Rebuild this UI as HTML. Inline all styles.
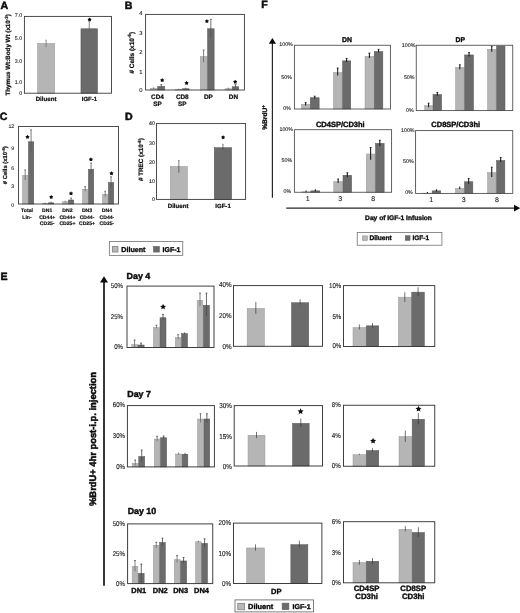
<!DOCTYPE html>
<html>
<head>
<meta charset="utf-8">
<title>Figure</title>
<style>
html, body { margin: 0; padding: 0; background: #fff; }
body { width: 520px; height: 613px; overflow: hidden; }
svg { display: block; font-family: "Liberation Sans", sans-serif; filter: blur(0.4px); text-rendering: geometricPrecision; }
</style>
</head>
<body>
<svg width="520" height="613" viewBox="0 0 520 613">
<rect x="-5" y="-5" width="530" height="623" fill="#ffffff"/>
<text x="0.6" y="8.59" font-size="10.6" text-anchor="start" fill="#0c0c0c" font-weight="bold" stroke="#0c0c0c" stroke-width="0.52">A</text>
<text x="124.8" y="8.59" font-size="10.6" text-anchor="start" fill="#0c0c0c" font-weight="bold" stroke="#0c0c0c" stroke-width="0.52">B</text>
<text x="-0.3" y="119.89" font-size="10.6" text-anchor="start" fill="#0c0c0c" font-weight="bold" stroke="#0c0c0c" stroke-width="0.52">C</text>
<text x="125" y="120.09" font-size="10.6" text-anchor="start" fill="#0c0c0c" font-weight="bold" stroke="#0c0c0c" stroke-width="0.52">D</text>
<text x="0.4" y="280.29" font-size="10.6" text-anchor="start" fill="#0c0c0c" font-weight="bold" stroke="#0c0c0c" stroke-width="0.52">E</text>
<text x="261.2" y="8.19" font-size="10.6" text-anchor="start" fill="#0c0c0c" font-weight="bold" stroke="#0c0c0c" stroke-width="0.52">F</text>
<rect x="37.45" y="43.35" width="17.3" height="49.85" fill="#b5b5b5" stroke="#9c9c9c" stroke-width="0.5"/>
<line x1="46.1" y1="40.2" x2="46.1" y2="47.2" stroke="#777" stroke-width="0.8"/>
<line x1="45.4" y1="40.2" x2="46.8" y2="40.2" stroke="#777" stroke-width="0.68"/>
<rect x="80.95" y="28.75" width="16.6" height="64.45" fill="#6b6b6b" stroke="#585858" stroke-width="0.5"/>
<line x1="89.25" y1="21.3" x2="89.25" y2="34.4" stroke="#666" stroke-width="0.8"/>
<line x1="88.55" y1="21.3" x2="89.95" y2="21.3" stroke="#666" stroke-width="0.68"/>
<rect x="24.4" y="16.4" width="87.1" height="76.8" fill="none" stroke="#363636" stroke-width="0.88"/>
<text x="22.2" y="17.4" font-size="5.3" text-anchor="end" fill="#222222" stroke="#222222" stroke-width="0.11">7.0</text>
<text x="22.2" y="39.7" font-size="5.3" text-anchor="end" fill="#222222" stroke="#222222" stroke-width="0.11">5.0</text>
<text x="22.2" y="62.9" font-size="5.3" text-anchor="end" fill="#222222" stroke="#222222" stroke-width="0.11">3.0</text>
<text x="22.2" y="83.9" font-size="5.3" text-anchor="end" fill="#222222" stroke="#222222" stroke-width="0.11">1.0</text>
<text x="22.2" y="94.5" font-size="5.3" text-anchor="end" fill="#222222" stroke="#222222" stroke-width="0.11">0</text>
<text transform="translate(10.34 54.8) rotate(-90)" font-size="6.25" text-anchor="middle" fill="#0c0c0c" font-weight="bold" stroke="#0c0c0c" stroke-width="0.21">Thymus Wt:Body Wt (x10<tspan dy="-2.25" font-size="4.5">-3</tspan><tspan dy="2.25">)</tspan></text>
<text x="46.1" y="100.7" font-size="6.15" text-anchor="middle" fill="#0c0c0c" font-weight="bold" stroke="#0c0c0c" stroke-width="0.2">Diluent</text>
<text x="89.4" y="100.65" font-size="6" text-anchor="middle" fill="#0c0c0c" font-weight="bold" stroke="#0c0c0c" stroke-width="0.2">IGF-1</text>
<polygon points="89.6,17.41 90.37,18.54 91.68,18.92 90.85,20.01 90.89,21.37 89.6,20.91 88.31,21.37 88.35,20.01 87.52,18.92 88.83,18.54" fill="#0a0a0a"/>
<rect x="150.25" y="88.35" width="7" height="1.65" fill="#b5b5b5" stroke="#9c9c9c" stroke-width="0.5"/>
<line x1="153.75" y1="87.2" x2="153.75" y2="89" stroke="#5e5e5e" stroke-width="0.8"/>
<rect x="157.75" y="86.45" width="7" height="3.55" fill="#6b6b6b" stroke="#585858" stroke-width="0.5"/>
<line x1="161.25" y1="84.6" x2="161.25" y2="87.6" stroke="#505050" stroke-width="0.8"/>
<line x1="160.35" y1="84.6" x2="162.15" y2="84.6" stroke="#333" stroke-width="0.68"/>
<rect x="175.15" y="89.55" width="6.75" height="0.45" fill="#b5b5b5" stroke="#9c9c9c" stroke-width="0.5"/>
<line x1="178.53" y1="88.8" x2="178.53" y2="89.8" stroke="#5e5e5e" stroke-width="0.8"/>
<rect x="182.4" y="88.75" width="6.75" height="1.25" fill="#6b6b6b" stroke="#585858" stroke-width="0.5"/>
<line x1="185.78" y1="87.7" x2="185.78" y2="89.3" stroke="#505050" stroke-width="0.8"/>
<rect x="200.25" y="56.5" width="6.75" height="33.5" fill="#b5b5b5" stroke="#9c9c9c" stroke-width="0.5"/>
<line x1="203.62" y1="50" x2="203.62" y2="62.25" stroke="#5e5e5e" stroke-width="0.8"/>
<line x1="202.72" y1="50" x2="204.53" y2="50" stroke="#333" stroke-width="0.68"/>
<rect x="207.5" y="28.75" width="6.65" height="61.25" fill="#6b6b6b" stroke="#585858" stroke-width="0.5"/>
<line x1="210.82" y1="19.4" x2="210.82" y2="37.25" stroke="#505050" stroke-width="0.8"/>
<line x1="209.92" y1="19.4" x2="211.72" y2="19.4" stroke="#333" stroke-width="0.68"/>
<rect x="225" y="88.75" width="6.65" height="1.25" fill="#b5b5b5" stroke="#9c9c9c" stroke-width="0.5"/>
<line x1="228.32" y1="87.7" x2="228.32" y2="89.3" stroke="#5e5e5e" stroke-width="0.8"/>
<rect x="232.15" y="86.75" width="6.6" height="3.25" fill="#6b6b6b" stroke="#585858" stroke-width="0.5"/>
<line x1="235.45" y1="84.6" x2="235.45" y2="88.2" stroke="#505050" stroke-width="0.8"/>
<line x1="234.55" y1="84.6" x2="236.35" y2="84.6" stroke="#333" stroke-width="0.68"/>
<rect x="145.6" y="14.4" width="98.8" height="75.6" fill="none" stroke="#363636" stroke-width="0.88"/>
<text x="142.6" y="15.28" font-size="5.8" text-anchor="end" fill="#222222" stroke="#222222" stroke-width="0.12">4</text>
<text x="142.6" y="35.48" font-size="5.8" text-anchor="end" fill="#222222" stroke="#222222" stroke-width="0.12">3</text>
<text x="142.6" y="53.98" font-size="5.8" text-anchor="end" fill="#222222" stroke="#222222" stroke-width="0.12">2</text>
<text x="142.6" y="73.58" font-size="5.8" text-anchor="end" fill="#222222" stroke="#222222" stroke-width="0.12">1</text>
<text x="142.6" y="92.08" font-size="5.8" text-anchor="end" fill="#222222" stroke="#222222" stroke-width="0.12">0</text>
<text transform="translate(133.61 52.75) rotate(-90)" font-size="6.45" text-anchor="middle" fill="#0c0c0c" font-weight="bold" stroke="#0c0c0c" stroke-width="0.21"># Cells (x10<tspan dy="-2.32" font-size="4.64">-6</tspan><tspan dy="2.32">)</tspan></text>
<text x="157.5" y="98.59" font-size="6.4" text-anchor="middle" fill="#0c0c0c" font-weight="bold" stroke="#0c0c0c" stroke-width="0.21">CD4</text>
<text x="157.5" y="106.09" font-size="6.4" text-anchor="middle" fill="#0c0c0c" font-weight="bold" stroke="#0c0c0c" stroke-width="0.21">SP</text>
<text x="182.3" y="98.59" font-size="6.4" text-anchor="middle" fill="#0c0c0c" font-weight="bold" stroke="#0c0c0c" stroke-width="0.21">CD8</text>
<text x="182.3" y="106.09" font-size="6.4" text-anchor="middle" fill="#0c0c0c" font-weight="bold" stroke="#0c0c0c" stroke-width="0.21">SP</text>
<text x="208.4" y="98.69" font-size="6.4" text-anchor="middle" fill="#0c0c0c" font-weight="bold" stroke="#0c0c0c" stroke-width="0.21">DP</text>
<text x="233.4" y="98.69" font-size="6.4" text-anchor="middle" fill="#0c0c0c" font-weight="bold" stroke="#0c0c0c" stroke-width="0.21">DN</text>
<polygon points="162.2,78.11 162.97,79.24 164.28,79.62 163.45,80.71 163.49,82.07 162.2,81.61 160.91,82.07 160.95,80.71 160.12,79.62 161.43,79.24" fill="#0a0a0a"/>
<polygon points="186.6,80.91 187.37,82.04 188.68,82.42 187.85,83.51 187.89,84.87 186.6,84.41 185.31,84.87 185.35,83.51 184.52,82.42 185.83,82.04" fill="#0a0a0a"/>
<polygon points="206.9,19.11 207.67,20.24 208.98,20.62 208.15,21.71 208.19,23.07 206.9,22.61 205.61,23.07 205.65,21.71 204.82,20.62 206.13,20.24" fill="#0a0a0a"/>
<polygon points="235.2,79.71 235.97,80.84 237.28,81.22 236.45,82.31 236.49,83.67 235.2,83.21 233.91,83.67 233.95,82.31 233.12,81.22 234.43,80.84" fill="#0a0a0a"/>
<rect x="22.5" y="175.35" width="5.38" height="28.65" fill="#b5b5b5" stroke="#9c9c9c" stroke-width="0.5"/>
<line x1="25.19" y1="169.9" x2="25.19" y2="179.9" stroke="#626262" stroke-width="0.8"/>
<line x1="24.39" y1="169.9" x2="25.99" y2="169.9" stroke="#3a3a3a" stroke-width="0.68"/>
<rect x="28.38" y="141.75" width="5.38" height="62.25" fill="#6b6b6b" stroke="#585858" stroke-width="0.5"/>
<line x1="31.07" y1="129.9" x2="31.07" y2="152.4" stroke="#5a5a5a" stroke-width="0.8"/>
<line x1="30.27" y1="129.9" x2="31.87" y2="129.9" stroke="#3a3a3a" stroke-width="0.68"/>
<rect x="42.5" y="203.55" width="5.38" height="0.45" fill="#b5b5b5" stroke="#9c9c9c" stroke-width="0.5"/>
<line x1="45.19" y1="202.6" x2="45.19" y2="203.8" stroke="#626262" stroke-width="0.8"/>
<rect x="48.38" y="202.85" width="5.38" height="1.15" fill="#6b6b6b" stroke="#585858" stroke-width="0.5"/>
<line x1="51.07" y1="201.6" x2="51.07" y2="203.5" stroke="#5a5a5a" stroke-width="0.8"/>
<rect x="62.5" y="201.75" width="5.38" height="2.25" fill="#b5b5b5" stroke="#9c9c9c" stroke-width="0.5"/>
<line x1="65.19" y1="200.7" x2="65.19" y2="202.3" stroke="#626262" stroke-width="0.8"/>
<rect x="68.38" y="200" width="5.38" height="4" fill="#6b6b6b" stroke="#585858" stroke-width="0.5"/>
<line x1="71.07" y1="198" x2="71.07" y2="201.3" stroke="#5a5a5a" stroke-width="0.8"/>
<line x1="70.27" y1="198" x2="71.87" y2="198" stroke="#3a3a3a" stroke-width="0.68"/>
<rect x="82.5" y="189.25" width="5.38" height="14.75" fill="#b5b5b5" stroke="#9c9c9c" stroke-width="0.5"/>
<line x1="85.19" y1="186.6" x2="85.19" y2="191.2" stroke="#626262" stroke-width="0.8"/>
<line x1="84.39" y1="186.6" x2="85.99" y2="186.6" stroke="#3a3a3a" stroke-width="0.68"/>
<rect x="88.38" y="169.25" width="5.38" height="34.75" fill="#6b6b6b" stroke="#585858" stroke-width="0.5"/>
<line x1="91.07" y1="163" x2="91.07" y2="174.25" stroke="#5a5a5a" stroke-width="0.8"/>
<line x1="90.27" y1="163" x2="91.87" y2="163" stroke="#3a3a3a" stroke-width="0.68"/>
<rect x="102.5" y="194.25" width="5.38" height="9.75" fill="#b5b5b5" stroke="#9c9c9c" stroke-width="0.5"/>
<line x1="105.19" y1="191.3" x2="105.19" y2="196.5" stroke="#626262" stroke-width="0.8"/>
<line x1="104.39" y1="191.3" x2="105.99" y2="191.3" stroke="#3a3a3a" stroke-width="0.68"/>
<rect x="108.38" y="182.55" width="5.38" height="21.45" fill="#6b6b6b" stroke="#585858" stroke-width="0.5"/>
<line x1="111.07" y1="176.75" x2="111.07" y2="187" stroke="#5a5a5a" stroke-width="0.8"/>
<line x1="110.27" y1="176.75" x2="111.87" y2="176.75" stroke="#3a3a3a" stroke-width="0.68"/>
<rect x="18.5" y="126.5" width="100" height="77.5" fill="none" stroke="#363636" stroke-width="0.88"/>
<text x="14.2" y="127.96" font-size="5.2" text-anchor="end" fill="#222222" stroke="#222222" stroke-width="0.1">12</text>
<text x="14.2" y="150.26" font-size="5.2" text-anchor="end" fill="#222222" stroke="#222222" stroke-width="0.1">9</text>
<text x="14.2" y="169.56" font-size="5.2" text-anchor="end" fill="#222222" stroke="#222222" stroke-width="0.1">6</text>
<text x="14.2" y="188.06" font-size="5.2" text-anchor="end" fill="#222222" stroke="#222222" stroke-width="0.1">3</text>
<text x="14.2" y="206.66" font-size="5.2" text-anchor="end" fill="#222222" stroke="#222222" stroke-width="0.1">0</text>
<text transform="translate(6.84 165.25) rotate(-90)" font-size="5.85" text-anchor="middle" fill="#0c0c0c" font-weight="bold" stroke="#0c0c0c" stroke-width="0.19"># Cells (x10<tspan dy="-2.11" font-size="4.21">-6</tspan><tspan dy="2.11">)</tspan></text>
<text x="27" y="212.23" font-size="5.1" text-anchor="middle" fill="#0c0c0c" font-weight="bold" stroke="#0c0c0c" stroke-width="0.17">Total</text>
<text x="27" y="218.58" font-size="5.1" text-anchor="middle" fill="#0c0c0c" font-weight="bold" stroke="#0c0c0c" stroke-width="0.17">Lin-</text>
<text x="47.2" y="212.23" font-size="5.1" text-anchor="middle" fill="#0c0c0c" font-weight="bold" stroke="#0c0c0c" stroke-width="0.17">DN1</text>
<text x="47.2" y="218.58" font-size="5.1" text-anchor="middle" fill="#0c0c0c" font-weight="bold" stroke="#0c0c0c" stroke-width="0.17">CD44+</text>
<text x="47.2" y="224.93" font-size="5.1" text-anchor="middle" fill="#0c0c0c" font-weight="bold" stroke="#0c0c0c" stroke-width="0.17">CD25-</text>
<text x="67.4" y="212.23" font-size="5.1" text-anchor="middle" fill="#0c0c0c" font-weight="bold" stroke="#0c0c0c" stroke-width="0.17">DN2</text>
<text x="67.4" y="218.58" font-size="5.1" text-anchor="middle" fill="#0c0c0c" font-weight="bold" stroke="#0c0c0c" stroke-width="0.17">CD44+</text>
<text x="67.4" y="224.93" font-size="5.1" text-anchor="middle" fill="#0c0c0c" font-weight="bold" stroke="#0c0c0c" stroke-width="0.17">CD25+</text>
<text x="87" y="212.23" font-size="5.1" text-anchor="middle" fill="#0c0c0c" font-weight="bold" stroke="#0c0c0c" stroke-width="0.17">DN3</text>
<text x="87" y="218.58" font-size="5.1" text-anchor="middle" fill="#0c0c0c" font-weight="bold" stroke="#0c0c0c" stroke-width="0.17">CD44-</text>
<text x="87" y="224.93" font-size="5.1" text-anchor="middle" fill="#0c0c0c" font-weight="bold" stroke="#0c0c0c" stroke-width="0.17">CD25+</text>
<text x="106.9" y="212.23" font-size="5.1" text-anchor="middle" fill="#0c0c0c" font-weight="bold" stroke="#0c0c0c" stroke-width="0.17">DN4</text>
<text x="106.9" y="218.58" font-size="5.1" text-anchor="middle" fill="#0c0c0c" font-weight="bold" stroke="#0c0c0c" stroke-width="0.17">CD44-</text>
<text x="106.9" y="224.93" font-size="5.1" text-anchor="middle" fill="#0c0c0c" font-weight="bold" stroke="#0c0c0c" stroke-width="0.17">CD25-</text>
<polygon points="27.5,134.81 28.27,135.94 29.58,136.32 28.75,137.41 28.79,138.77 27.5,138.31 26.21,138.77 26.25,137.41 25.42,136.32 26.73,135.94" fill="#0a0a0a"/>
<polygon points="51.2,194.91 51.97,196.04 53.28,196.42 52.45,197.51 52.49,198.87 51.2,198.41 49.91,198.87 49.95,197.51 49.12,196.42 50.43,196.04" fill="#0a0a0a"/>
<polygon points="71,191.31 71.77,192.44 73.08,192.82 72.25,193.91 72.29,195.27 71,194.81 69.71,195.27 69.75,193.91 68.92,192.82 70.23,192.44" fill="#0a0a0a"/>
<polygon points="90.9,157.31 91.67,158.44 92.98,158.82 92.15,159.91 92.19,161.27 90.9,160.81 89.61,161.27 89.65,159.91 88.82,158.82 90.13,158.44" fill="#0a0a0a"/>
<polygon points="111.5,171.21 112.27,172.34 113.58,172.72 112.75,173.81 112.79,175.17 111.5,174.71 110.21,175.17 110.25,173.81 109.42,172.72 110.73,172.34" fill="#0a0a0a"/>
<rect x="109.4" y="241.5" width="73.35" height="13.9" fill="#fff" stroke="#808080" stroke-width="0.9"/>
<rect x="112.5" y="246.5" width="5.4" height="5.5" fill="#b9b9b9" stroke="#888888" stroke-width="0.9"/>
<text x="121.3" y="251.56" font-size="7.15" text-anchor="start" fill="#0c0c0c" font-weight="bold" stroke="#0c0c0c" stroke-width="0.35">Diluent</text>
<rect x="153.4" y="246.4" width="6.1" height="5.7" fill="#6b6b6b" stroke="#5c5c5c" stroke-width="0.5"/>
<text x="162.5" y="251.51" font-size="7" text-anchor="start" fill="#0c0c0c" font-weight="bold" stroke="#0c0c0c" stroke-width="0.35">IGF-1</text>
<rect x="170.25" y="166.35" width="17.2" height="33.05" fill="#b5b5b5" stroke="#9c9c9c" stroke-width="0.5"/>
<line x1="178.85" y1="160.5" x2="178.85" y2="172.75" stroke="#3a3a3a" stroke-width="0.65"/>
<line x1="178.25" y1="160.5" x2="179.45" y2="160.5" stroke="#3a3a3a" stroke-width="0.6"/>
<rect x="214.25" y="147.65" width="17.4" height="51.75" fill="#6b6b6b" stroke="#585858" stroke-width="0.5"/>
<line x1="222.95" y1="144.25" x2="222.95" y2="149.9" stroke="#3a3a3a" stroke-width="0.65"/>
<line x1="222.35" y1="144.25" x2="223.55" y2="144.25" stroke="#3a3a3a" stroke-width="0.6"/>
<rect x="156.5" y="123.6" width="89.1" height="75.8" fill="none" stroke="#363636" stroke-width="0.88"/>
<text x="155" y="124.7" font-size="5.3" text-anchor="end" fill="#222222" stroke="#222222" stroke-width="0.11">40</text>
<text x="155" y="144.9" font-size="5.3" text-anchor="end" fill="#222222" stroke="#222222" stroke-width="0.11">30</text>
<text x="155" y="163.7" font-size="5.3" text-anchor="end" fill="#222222" stroke="#222222" stroke-width="0.11">20</text>
<text x="155" y="182.5" font-size="5.3" text-anchor="end" fill="#222222" stroke="#222222" stroke-width="0.11">10</text>
<text x="155" y="201.2" font-size="5.3" text-anchor="end" fill="#222222" stroke="#222222" stroke-width="0.11">0</text>
<text transform="translate(143.26 159.6) rotate(-90)" font-size="6.3" text-anchor="middle" fill="#0c0c0c" font-weight="bold" stroke="#0c0c0c" stroke-width="0.21"># TREC (x10<tspan dy="-2.27" font-size="4.54">-6</tspan><tspan dy="2.27">)</tspan></text>
<text x="178.1" y="208.18" font-size="6.1" text-anchor="middle" fill="#0c0c0c" font-weight="bold" stroke="#0c0c0c" stroke-width="0.2">Diluent</text>
<text x="223" y="208.18" font-size="6.1" text-anchor="middle" fill="#0c0c0c" font-weight="bold" stroke="#0c0c0c" stroke-width="0.2">IGF-1</text>
<polygon points="223.1,135.28 223.85,136.37 225.12,136.74 224.31,137.79 224.35,139.12 223.1,138.68 221.85,139.12 221.89,137.79 221.08,136.74 222.35,136.37" fill="#0a0a0a"/>
<line x1="272.4" y1="42.7" x2="272.4" y2="197.8" stroke="#262626" stroke-width="1.2"/>
<polygon points="272.4,38 268.8,43.7 276,43.7" fill="#0a0a0a"/>
<text transform="translate(267.48 117.5) rotate(-90)" font-size="6.65" text-anchor="middle" fill="#0c0c0c" font-weight="bold" stroke="#0c0c0c" stroke-width="0.33">%BrdU<tspan dy="-2.3" font-size="4.4">+</tspan></text>
<line x1="286.2" y1="208.1" x2="515" y2="208.1" stroke="#262626" stroke-width="1.15"/>
<polygon points="520.3,208.1 514,204.8 514,211.4" fill="#0a0a0a"/>
<text x="398.5" y="219.88" font-size="6.65" text-anchor="middle" fill="#0c0c0c" font-weight="bold" stroke="#0c0c0c" stroke-width="0.33">Day of IGF-1 Infusion</text>
<rect x="301.5" y="104.25" width="8.25" height="4.75" fill="#b5b5b5" stroke="#9c9c9c" stroke-width="0.5"/>
<line x1="305.62" y1="102.6" x2="305.62" y2="105.4" stroke="#161616" stroke-width="1.05"/>
<line x1="304.73" y1="102.6" x2="306.52" y2="102.6" stroke="#161616" stroke-width="0.89"/>
<rect x="310.25" y="97.75" width="8.9" height="11.25" fill="#6b6b6b" stroke="#585858" stroke-width="0.5"/>
<line x1="314.7" y1="96.2" x2="314.7" y2="98.8" stroke="#161616" stroke-width="1.05"/>
<line x1="313.8" y1="96.2" x2="315.6" y2="96.2" stroke="#161616" stroke-width="0.89"/>
<rect x="333.35" y="72.5" width="8.65" height="36.5" fill="#b5b5b5" stroke="#9c9c9c" stroke-width="0.5"/>
<line x1="337.68" y1="68.1" x2="337.68" y2="75.6" stroke="#161616" stroke-width="1.05"/>
<line x1="336.78" y1="68.1" x2="338.57" y2="68.1" stroke="#161616" stroke-width="0.89"/>
<rect x="342.5" y="60.85" width="8.25" height="48.15" fill="#6b6b6b" stroke="#585858" stroke-width="0.5"/>
<line x1="346.62" y1="58.5" x2="346.62" y2="61.9" stroke="#161616" stroke-width="1.05"/>
<line x1="345.73" y1="58.5" x2="347.52" y2="58.5" stroke="#161616" stroke-width="0.89"/>
<rect x="365" y="56.25" width="8.75" height="52.75" fill="#b5b5b5" stroke="#9c9c9c" stroke-width="0.5"/>
<line x1="369.38" y1="53.1" x2="369.38" y2="58.1" stroke="#161616" stroke-width="1.05"/>
<line x1="368.48" y1="53.1" x2="370.27" y2="53.1" stroke="#161616" stroke-width="0.89"/>
<rect x="374.25" y="51.5" width="8.6" height="57.5" fill="#6b6b6b" stroke="#585858" stroke-width="0.5"/>
<line x1="378.55" y1="49.4" x2="378.55" y2="52.25" stroke="#161616" stroke-width="1.05"/>
<line x1="377.65" y1="49.4" x2="379.45" y2="49.4" stroke="#161616" stroke-width="0.89"/>
<rect x="294.4" y="45.25" width="96" height="63.75" fill="none" stroke="#484848" stroke-width="0.85"/>
<text x="346.9" y="41.87" font-size="6.9" text-anchor="middle" fill="#0c0c0c" font-weight="bold" stroke="#0c0c0c" stroke-width="0.34">DN</text>
<text x="292.8" y="46.4" font-size="5.3" text-anchor="end" fill="#222222" stroke="#222222" stroke-width="0.11">100%</text>
<text x="291.9" y="78.6" font-size="5.3" text-anchor="end" fill="#222222" stroke="#222222" stroke-width="0.11">50%</text>
<text x="291" y="110" font-size="5.3" text-anchor="end" fill="#222222" stroke="#222222" stroke-width="0.11">0%</text>
<rect x="424.65" y="105.55" width="7.85" height="5.05" fill="#b5b5b5" stroke="#9c9c9c" stroke-width="0.5"/>
<line x1="428.57" y1="103.2" x2="428.57" y2="107.3" stroke="#161616" stroke-width="1.05"/>
<line x1="427.68" y1="103.2" x2="429.47" y2="103.2" stroke="#161616" stroke-width="0.89"/>
<rect x="433" y="94.45" width="8.65" height="16.15" fill="#6b6b6b" stroke="#585858" stroke-width="0.5"/>
<line x1="437.32" y1="92.4" x2="437.32" y2="95.8" stroke="#161616" stroke-width="1.05"/>
<line x1="436.43" y1="92.4" x2="438.22" y2="92.4" stroke="#161616" stroke-width="0.89"/>
<rect x="455.5" y="67.35" width="8.65" height="43.25" fill="#b5b5b5" stroke="#9c9c9c" stroke-width="0.5"/>
<line x1="459.82" y1="64.8" x2="459.82" y2="69.2" stroke="#161616" stroke-width="1.05"/>
<line x1="458.93" y1="64.8" x2="460.72" y2="64.8" stroke="#161616" stroke-width="0.89"/>
<rect x="464.65" y="54.95" width="8.85" height="55.65" fill="#6b6b6b" stroke="#585858" stroke-width="0.5"/>
<line x1="469.07" y1="52.6" x2="469.07" y2="56.4" stroke="#161616" stroke-width="1.05"/>
<line x1="468.18" y1="52.6" x2="469.97" y2="52.6" stroke="#161616" stroke-width="0.89"/>
<rect x="487.5" y="49.25" width="8.5" height="61.35" fill="#b5b5b5" stroke="#9c9c9c" stroke-width="0.5"/>
<line x1="491.75" y1="46.3" x2="491.75" y2="51.8" stroke="#161616" stroke-width="1.05"/>
<line x1="490.85" y1="46.3" x2="492.65" y2="46.3" stroke="#161616" stroke-width="0.89"/>
<rect x="496.5" y="46.05" width="8.5" height="64.55" fill="#6b6b6b" stroke="#585858" stroke-width="0.5"/>
<rect x="416.25" y="45.25" width="96.5" height="65.35" fill="none" stroke="#484848" stroke-width="0.85"/>
<text x="460.4" y="41.87" font-size="6.9" text-anchor="middle" fill="#0c0c0c" font-weight="bold" stroke="#0c0c0c" stroke-width="0.34">DP</text>
<text x="415.4" y="46.65" font-size="5.3" text-anchor="end" fill="#222222" stroke="#222222" stroke-width="0.11">100%</text>
<text x="414.5" y="79.15" font-size="5.3" text-anchor="end" fill="#222222" stroke="#222222" stroke-width="0.11">50%</text>
<text x="413.6" y="111.9" font-size="5.3" text-anchor="end" fill="#222222" stroke="#222222" stroke-width="0.11">0%</text>
<rect x="301.85" y="191.85" width="8.5" height="0.4" fill="#b5b5b5" stroke="#9c9c9c" stroke-width="0.5"/>
<line x1="306.1" y1="190.6" x2="306.1" y2="192" stroke="#161616" stroke-width="1.05"/>
<rect x="310.85" y="190.85" width="8.9" height="1.4" fill="#6b6b6b" stroke="#585858" stroke-width="0.5"/>
<line x1="315.3" y1="189.3" x2="315.3" y2="191.5" stroke="#161616" stroke-width="1.05"/>
<rect x="333.75" y="181.5" width="8.75" height="10.75" fill="#b5b5b5" stroke="#9c9c9c" stroke-width="0.5"/>
<line x1="338.12" y1="179" x2="338.12" y2="183" stroke="#161616" stroke-width="1.05"/>
<line x1="337.23" y1="179" x2="339.02" y2="179" stroke="#161616" stroke-width="0.89"/>
<rect x="343" y="175.25" width="8.65" height="17" fill="#6b6b6b" stroke="#585858" stroke-width="0.5"/>
<line x1="347.32" y1="172.8" x2="347.32" y2="177" stroke="#161616" stroke-width="1.05"/>
<line x1="346.43" y1="172.8" x2="348.22" y2="172.8" stroke="#161616" stroke-width="0.89"/>
<rect x="366.25" y="154" width="8.75" height="38.25" fill="#b5b5b5" stroke="#9c9c9c" stroke-width="0.5"/>
<line x1="370.62" y1="147.5" x2="370.62" y2="159.75" stroke="#161616" stroke-width="1.05"/>
<line x1="369.73" y1="147.5" x2="371.52" y2="147.5" stroke="#161616" stroke-width="0.89"/>
<rect x="375.5" y="143.35" width="8.65" height="48.9" fill="#6b6b6b" stroke="#585858" stroke-width="0.5"/>
<line x1="379.82" y1="140.25" x2="379.82" y2="146" stroke="#161616" stroke-width="1.05"/>
<line x1="378.93" y1="140.25" x2="380.72" y2="140.25" stroke="#161616" stroke-width="0.89"/>
<rect x="294.4" y="129.7" width="97.2" height="62.55" fill="none" stroke="#484848" stroke-width="0.85"/>
<text x="340.3" y="127.28" font-size="7.5" text-anchor="middle" fill="#0c0c0c" font-weight="bold" stroke="#0c0c0c" stroke-width="0.37">CD4SP/CD3hi</text>
<text x="293" y="130.65" font-size="5.3" text-anchor="end" fill="#222222" stroke="#222222" stroke-width="0.11">100%</text>
<text x="292.1" y="162.15" font-size="5.3" text-anchor="end" fill="#222222" stroke="#222222" stroke-width="0.11">50%</text>
<text x="291.2" y="193.15" font-size="5.3" text-anchor="end" fill="#222222" stroke="#222222" stroke-width="0.11">0%</text>
<text x="307.6" y="201.41" font-size="7" text-anchor="middle" fill="#1c1c1c" stroke="#1c1c1c" stroke-width="0.14">1</text>
<text x="340.3" y="201.41" font-size="7" text-anchor="middle" fill="#1c1c1c" stroke="#1c1c1c" stroke-width="0.14">3</text>
<text x="373.1" y="201.41" font-size="7" text-anchor="middle" fill="#1c1c1c" stroke="#1c1c1c" stroke-width="0.14">8</text>
<rect x="423.15" y="193.15" width="8.5" height="0.25" fill="#b5b5b5" stroke="#9c9c9c" stroke-width="0.5"/>
<line x1="427.4" y1="192" x2="427.4" y2="193.2" stroke="#161616" stroke-width="1.05"/>
<rect x="432.15" y="190.85" width="8.6" height="2.55" fill="#6b6b6b" stroke="#585858" stroke-width="0.5"/>
<line x1="436.45" y1="189.3" x2="436.45" y2="191.6" stroke="#161616" stroke-width="1.05"/>
<rect x="455.5" y="188.35" width="8.45" height="5.05" fill="#b5b5b5" stroke="#9c9c9c" stroke-width="0.5"/>
<line x1="459.73" y1="186.5" x2="459.73" y2="189" stroke="#161616" stroke-width="1.05"/>
<rect x="464.45" y="181.75" width="8.4" height="11.65" fill="#6b6b6b" stroke="#585858" stroke-width="0.5"/>
<line x1="468.65" y1="178.5" x2="468.65" y2="183.75" stroke="#161616" stroke-width="1.05"/>
<line x1="467.75" y1="178.5" x2="469.55" y2="178.5" stroke="#161616" stroke-width="0.89"/>
<rect x="487.5" y="172.5" width="8.5" height="20.9" fill="#b5b5b5" stroke="#9c9c9c" stroke-width="0.5"/>
<line x1="491.75" y1="167.25" x2="491.75" y2="176.9" stroke="#161616" stroke-width="1.05"/>
<line x1="490.85" y1="167.25" x2="492.65" y2="167.25" stroke="#161616" stroke-width="0.89"/>
<rect x="496.5" y="160.5" width="8.35" height="32.9" fill="#6b6b6b" stroke="#585858" stroke-width="0.5"/>
<line x1="500.68" y1="157.5" x2="500.68" y2="161.9" stroke="#161616" stroke-width="1.05"/>
<line x1="499.78" y1="157.5" x2="501.57" y2="157.5" stroke="#161616" stroke-width="0.89"/>
<rect x="415.6" y="130.6" width="97.15" height="62.8" fill="none" stroke="#484848" stroke-width="0.85"/>
<text x="455.7" y="127.28" font-size="7.5" text-anchor="middle" fill="#0c0c0c" font-weight="bold" stroke="#0c0c0c" stroke-width="0.37">CD8SP/CD3hi</text>
<text x="414.6" y="131.9" font-size="5.3" text-anchor="end" fill="#222222" stroke="#222222" stroke-width="0.11">100%</text>
<text x="413.7" y="163" font-size="5.3" text-anchor="end" fill="#222222" stroke="#222222" stroke-width="0.11">50%</text>
<text x="412.8" y="194.4" font-size="5.3" text-anchor="end" fill="#222222" stroke="#222222" stroke-width="0.11">0%</text>
<text x="431.3" y="201.51" font-size="7" text-anchor="middle" fill="#1c1c1c" stroke="#1c1c1c" stroke-width="0.14">1</text>
<text x="463.8" y="201.51" font-size="7" text-anchor="middle" fill="#1c1c1c" stroke="#1c1c1c" stroke-width="0.14">3</text>
<text x="496.9" y="201.51" font-size="7" text-anchor="middle" fill="#1c1c1c" stroke="#1c1c1c" stroke-width="0.14">8</text>
<rect x="357.25" y="232.5" width="84.65" height="12.75" fill="#fff" stroke="#808080" stroke-width="0.9"/>
<rect x="362.6" y="235.9" width="4.7" height="4.6" fill="#b9b9b9" stroke="#909090" stroke-width="0.6"/>
<text x="369.4" y="240.46" font-size="6.6" text-anchor="start" fill="#0c0c0c" font-weight="bold" stroke="#0c0c0c" stroke-width="0.33">Diluent</text>
<rect x="405.2" y="235.6" width="4.9" height="4.9" fill="#6b6b6b" stroke="#5c5c5c" stroke-width="0.4"/>
<text x="412.5" y="240.33" font-size="6.5" text-anchor="start" fill="#0c0c0c" font-weight="bold" stroke="#0c0c0c" stroke-width="0.32">IGF-1</text>
<line x1="104" y1="281.6" x2="104" y2="585.8" stroke="#141414" stroke-width="1.7"/>
<polygon points="104,276.2 100,282.6 108,282.6" fill="#0a0a0a"/>
<text transform="translate(96.15 439) rotate(-90)" font-size="9.37" text-anchor="middle" fill="#0c0c0c" font-weight="bold" stroke="#0c0c0c" stroke-width="0.51">%BrdU+ 4hr post-i.p. injection</text>
<rect x="131.75" y="344.65" width="5.75" height="2.85" fill="#b5b5b5" stroke="#9c9c9c" stroke-width="0.5"/>
<line x1="134.62" y1="340" x2="134.62" y2="346.9" stroke="#6e6e6e" stroke-width="0.85"/>
<line x1="133.72" y1="340" x2="135.53" y2="340" stroke="#333" stroke-width="0.72"/>
<rect x="138" y="345" width="6.15" height="2.5" fill="#6b6b6b" stroke="#585858" stroke-width="0.5"/>
<line x1="141.07" y1="343.1" x2="141.07" y2="346.25" stroke="#4c4c4c" stroke-width="0.85"/>
<line x1="140.17" y1="343.1" x2="141.97" y2="343.1" stroke="#333" stroke-width="0.72"/>
<rect x="153.35" y="327.5" width="6.15" height="20" fill="#b5b5b5" stroke="#9c9c9c" stroke-width="0.5"/>
<line x1="156.43" y1="325.25" x2="156.43" y2="328.3" stroke="#6e6e6e" stroke-width="0.85"/>
<line x1="155.53" y1="325.25" x2="157.33" y2="325.25" stroke="#333" stroke-width="0.72"/>
<rect x="160" y="317.75" width="6" height="29.75" fill="#6b6b6b" stroke="#585858" stroke-width="0.5"/>
<line x1="163" y1="314.4" x2="163" y2="320.25" stroke="#4c4c4c" stroke-width="0.85"/>
<line x1="162.1" y1="314.4" x2="163.9" y2="314.4" stroke="#333" stroke-width="0.72"/>
<rect x="175.25" y="337.5" width="5.75" height="10" fill="#b5b5b5" stroke="#9c9c9c" stroke-width="0.5"/>
<line x1="178.12" y1="334.8" x2="178.12" y2="339.5" stroke="#6e6e6e" stroke-width="0.85"/>
<line x1="177.22" y1="334.8" x2="179.03" y2="334.8" stroke="#333" stroke-width="0.72"/>
<rect x="181.5" y="333.55" width="6" height="13.95" fill="#6b6b6b" stroke="#585858" stroke-width="0.5"/>
<line x1="184.5" y1="332.4" x2="184.5" y2="334.2" stroke="#4c4c4c" stroke-width="0.85"/>
<rect x="197.15" y="300.25" width="5.7" height="47.25" fill="#b5b5b5" stroke="#9c9c9c" stroke-width="0.5"/>
<line x1="200" y1="293.1" x2="200" y2="306.25" stroke="#6e6e6e" stroke-width="0.85"/>
<line x1="199.1" y1="293.1" x2="200.9" y2="293.1" stroke="#333" stroke-width="0.72"/>
<rect x="203.35" y="305.25" width="6.15" height="42.25" fill="#6b6b6b" stroke="#585858" stroke-width="0.5"/>
<line x1="206.43" y1="293.1" x2="206.43" y2="316.25" stroke="#4c4c4c" stroke-width="0.85"/>
<line x1="205.53" y1="293.1" x2="207.33" y2="293.1" stroke="#333" stroke-width="0.72"/>
<rect x="127" y="286.1" width="87" height="61.4" fill="none" stroke="#363636" stroke-width="0.95"/>
<text x="126.6" y="278.57" font-size="8.85" text-anchor="start" fill="#0c0c0c" font-weight="bold" stroke="#0c0c0c" stroke-width="0.44">Day 4</text>
<text transform="translate(123 288.07) scale(0.88 1)" font-size="6.9" text-anchor="end" fill="#222222" stroke="#222222" stroke-width="0.14">50%</text>
<text transform="translate(123 318.97) scale(0.88 1)" font-size="6.9" text-anchor="end" fill="#222222" stroke="#222222" stroke-width="0.14">25%</text>
<text transform="translate(123 349.07) scale(0.88 1)" font-size="6.9" text-anchor="end" fill="#222222" stroke="#222222" stroke-width="0.14">0%</text>
<polygon points="163.1,303.7 163.97,305.71 166.14,305.91 164.5,307.35 164.98,309.49 163.1,308.37 161.22,309.49 161.7,307.35 160.06,305.91 162.23,305.71" fill="#0a0a0a"/>
<rect x="132.15" y="463.35" width="6.1" height="3.55" fill="#b5b5b5" stroke="#9c9c9c" stroke-width="0.5"/>
<line x1="135.2" y1="460" x2="135.2" y2="465.6" stroke="#6e6e6e" stroke-width="0.85"/>
<line x1="134.3" y1="460" x2="136.1" y2="460" stroke="#333" stroke-width="0.72"/>
<rect x="138.75" y="456.5" width="6" height="10.4" fill="#6b6b6b" stroke="#585858" stroke-width="0.5"/>
<line x1="141.75" y1="450" x2="141.75" y2="461.9" stroke="#4c4c4c" stroke-width="0.85"/>
<line x1="140.85" y1="450" x2="142.65" y2="450" stroke="#333" stroke-width="0.72"/>
<rect x="154.25" y="439" width="5.75" height="27.9" fill="#b5b5b5" stroke="#9c9c9c" stroke-width="0.5"/>
<line x1="157.12" y1="436.25" x2="157.12" y2="441.25" stroke="#6e6e6e" stroke-width="0.85"/>
<line x1="156.22" y1="436.25" x2="158.03" y2="436.25" stroke="#333" stroke-width="0.72"/>
<rect x="160.5" y="437.75" width="6.15" height="29.15" fill="#6b6b6b" stroke="#585858" stroke-width="0.5"/>
<line x1="163.57" y1="436" x2="163.57" y2="438.8" stroke="#4c4c4c" stroke-width="0.85"/>
<line x1="162.67" y1="436" x2="164.47" y2="436" stroke="#333" stroke-width="0.72"/>
<rect x="175.5" y="454" width="6.15" height="12.9" fill="#b5b5b5" stroke="#9c9c9c" stroke-width="0.5"/>
<line x1="178.57" y1="452.5" x2="178.57" y2="455" stroke="#6e6e6e" stroke-width="0.85"/>
<rect x="182.15" y="454.25" width="5.7" height="12.65" fill="#6b6b6b" stroke="#585858" stroke-width="0.5"/>
<line x1="185" y1="452.9" x2="185" y2="455.2" stroke="#4c4c4c" stroke-width="0.85"/>
<rect x="197.5" y="419" width="6" height="47.9" fill="#b5b5b5" stroke="#9c9c9c" stroke-width="0.5"/>
<line x1="200.5" y1="413.75" x2="200.5" y2="422.5" stroke="#6e6e6e" stroke-width="0.85"/>
<line x1="199.6" y1="413.75" x2="201.4" y2="413.75" stroke="#333" stroke-width="0.72"/>
<rect x="204" y="419" width="5.75" height="47.9" fill="#6b6b6b" stroke="#585858" stroke-width="0.5"/>
<line x1="206.88" y1="413.75" x2="206.88" y2="422.5" stroke="#4c4c4c" stroke-width="0.85"/>
<line x1="205.97" y1="413.75" x2="207.78" y2="413.75" stroke="#333" stroke-width="0.72"/>
<rect x="127.4" y="405.6" width="87" height="61.3" fill="none" stroke="#363636" stroke-width="0.95"/>
<text x="127.3" y="397.27" font-size="8.85" text-anchor="start" fill="#0c0c0c" font-weight="bold" stroke="#0c0c0c" stroke-width="0.44">Day 7</text>
<text transform="translate(125 407.47) scale(0.88 1)" font-size="6.9" text-anchor="end" fill="#222222" stroke="#222222" stroke-width="0.14">60%</text>
<text transform="translate(125 438.47) scale(0.88 1)" font-size="6.9" text-anchor="end" fill="#222222" stroke="#222222" stroke-width="0.14">30%</text>
<text transform="translate(125 468.77) scale(0.88 1)" font-size="6.9" text-anchor="end" fill="#222222" stroke="#222222" stroke-width="0.14">0%</text>
<rect x="132.15" y="566.25" width="5.7" height="17.35" fill="#b5b5b5" stroke="#9c9c9c" stroke-width="0.5"/>
<line x1="135" y1="560.6" x2="135" y2="571.25" stroke="#6e6e6e" stroke-width="0.85"/>
<line x1="134.1" y1="560.6" x2="135.9" y2="560.6" stroke="#333" stroke-width="0.72"/>
<rect x="138.35" y="573.35" width="5.8" height="10.25" fill="#6b6b6b" stroke="#585858" stroke-width="0.5"/>
<line x1="141.25" y1="564" x2="141.25" y2="582.5" stroke="#4c4c4c" stroke-width="0.85"/>
<line x1="140.35" y1="564" x2="142.15" y2="564" stroke="#333" stroke-width="0.72"/>
<rect x="153.35" y="545.25" width="5.8" height="38.35" fill="#b5b5b5" stroke="#9c9c9c" stroke-width="0.5"/>
<line x1="156.25" y1="542.25" x2="156.25" y2="548.1" stroke="#6e6e6e" stroke-width="0.85"/>
<line x1="155.35" y1="542.25" x2="157.15" y2="542.25" stroke="#333" stroke-width="0.72"/>
<rect x="159.65" y="542.5" width="5.7" height="41.1" fill="#6b6b6b" stroke="#585858" stroke-width="0.5"/>
<line x1="162.5" y1="538.1" x2="162.5" y2="545.6" stroke="#4c4c4c" stroke-width="0.85"/>
<line x1="161.6" y1="538.1" x2="163.4" y2="538.1" stroke="#333" stroke-width="0.72"/>
<rect x="174.25" y="559.65" width="5.75" height="23.95" fill="#b5b5b5" stroke="#9c9c9c" stroke-width="0.5"/>
<line x1="177.12" y1="555.6" x2="177.12" y2="562.5" stroke="#6e6e6e" stroke-width="0.85"/>
<line x1="176.22" y1="555.6" x2="178.03" y2="555.6" stroke="#333" stroke-width="0.72"/>
<rect x="180.5" y="560.95" width="6.15" height="22.65" fill="#6b6b6b" stroke="#585858" stroke-width="0.5"/>
<line x1="183.57" y1="557.5" x2="183.57" y2="563.5" stroke="#4c4c4c" stroke-width="0.85"/>
<line x1="182.67" y1="557.5" x2="184.47" y2="557.5" stroke="#333" stroke-width="0.72"/>
<rect x="195.5" y="541.75" width="5.75" height="41.85" fill="#b5b5b5" stroke="#9c9c9c" stroke-width="0.5"/>
<line x1="198.38" y1="540.6" x2="198.38" y2="542.3" stroke="#6e6e6e" stroke-width="0.85"/>
<rect x="201.75" y="543.35" width="5.75" height="40.25" fill="#6b6b6b" stroke="#585858" stroke-width="0.5"/>
<line x1="204.62" y1="538.75" x2="204.62" y2="546.9" stroke="#4c4c4c" stroke-width="0.85"/>
<line x1="203.72" y1="538.75" x2="205.53" y2="538.75" stroke="#333" stroke-width="0.72"/>
<rect x="127.6" y="523.9" width="85.15" height="59.7" fill="none" stroke="#363636" stroke-width="0.95"/>
<text x="127.7" y="513.92" font-size="8.85" text-anchor="start" fill="#0c0c0c" font-weight="bold" stroke="#0c0c0c" stroke-width="0.44">Day 10</text>
<text transform="translate(124.8 525.57) scale(0.88 1)" font-size="6.9" text-anchor="end" fill="#222222" stroke="#222222" stroke-width="0.14">50%</text>
<text transform="translate(124.8 556.47) scale(0.88 1)" font-size="6.9" text-anchor="end" fill="#222222" stroke="#222222" stroke-width="0.14">25%</text>
<text transform="translate(124.8 585.72) scale(0.88 1)" font-size="6.9" text-anchor="end" fill="#222222" stroke="#222222" stroke-width="0.14">0%</text>
<text x="138.75" y="592.57" font-size="7.45" text-anchor="middle" fill="#0c0c0c" font-weight="bold" stroke="#0c0c0c" stroke-width="0.37">DN1</text>
<text x="160.25" y="592.57" font-size="7.45" text-anchor="middle" fill="#0c0c0c" font-weight="bold" stroke="#0c0c0c" stroke-width="0.37">DN2</text>
<text x="180.6" y="592.57" font-size="7.45" text-anchor="middle" fill="#0c0c0c" font-weight="bold" stroke="#0c0c0c" stroke-width="0.37">DN3</text>
<text x="201.5" y="592.57" font-size="7.45" text-anchor="middle" fill="#0c0c0c" font-weight="bold" stroke="#0c0c0c" stroke-width="0.37">DN4</text>
<rect x="247.15" y="308.35" width="17.35" height="37.95" fill="#b5b5b5" stroke="#9c9c9c" stroke-width="0.5"/>
<line x1="255.82" y1="301.9" x2="255.82" y2="313.75" stroke="#383838" stroke-width="0.7"/>
<rect x="291.5" y="302.75" width="17.25" height="43.55" fill="#6b6b6b" stroke="#585858" stroke-width="0.5"/>
<line x1="300.12" y1="299.4" x2="300.12" y2="304.4" stroke="#383838" stroke-width="0.7"/>
<rect x="233.5" y="285.6" width="89" height="60.7" fill="none" stroke="#363636" stroke-width="0.95"/>
<text transform="translate(231.6 287.26) scale(0.88 1)" font-size="7.15" text-anchor="end" fill="#222222" stroke="#222222" stroke-width="0.14">40%</text>
<text transform="translate(231.6 317.76) scale(0.88 1)" font-size="7.15" text-anchor="end" fill="#222222" stroke="#222222" stroke-width="0.14">20%</text>
<text transform="translate(231.6 348.96) scale(0.88 1)" font-size="7.15" text-anchor="end" fill="#222222" stroke="#222222" stroke-width="0.14">0%</text>
<rect x="248" y="435.25" width="17" height="30.75" fill="#b5b5b5" stroke="#9c9c9c" stroke-width="0.5"/>
<line x1="256.5" y1="431.9" x2="256.5" y2="438.1" stroke="#383838" stroke-width="0.7"/>
<rect x="292.5" y="423.35" width="16.65" height="42.65" fill="#6b6b6b" stroke="#585858" stroke-width="0.5"/>
<line x1="300.82" y1="418.5" x2="300.82" y2="426.9" stroke="#383838" stroke-width="0.7"/>
<rect x="234.2" y="405.6" width="88.3" height="60.4" fill="none" stroke="#363636" stroke-width="0.95"/>
<text transform="translate(231.8 408.06) scale(0.88 1)" font-size="7.15" text-anchor="end" fill="#222222" stroke="#222222" stroke-width="0.14">30%</text>
<text transform="translate(231.8 438.96) scale(0.88 1)" font-size="7.15" text-anchor="end" fill="#222222" stroke="#222222" stroke-width="0.14">15%</text>
<text transform="translate(231.8 468.76) scale(0.88 1)" font-size="7.15" text-anchor="end" fill="#222222" stroke="#222222" stroke-width="0.14">0%</text>
<polygon points="300.6,408.3 301.47,410.31 303.64,410.51 302,411.95 302.48,414.09 300.6,412.97 298.72,414.09 299.2,411.95 297.56,410.51 299.73,410.31" fill="#0a0a0a"/>
<rect x="246.5" y="547.95" width="18" height="35.55" fill="#b5b5b5" stroke="#9c9c9c" stroke-width="0.5"/>
<line x1="255.5" y1="544.4" x2="255.5" y2="550.6" stroke="#383838" stroke-width="0.7"/>
<rect x="290.85" y="544.65" width="17" height="38.85" fill="#6b6b6b" stroke="#585858" stroke-width="0.5"/>
<line x1="299.35" y1="540.6" x2="299.35" y2="547.5" stroke="#383838" stroke-width="0.7"/>
<rect x="233.5" y="523.1" width="88.4" height="60.4" fill="none" stroke="#363636" stroke-width="0.95"/>
<text transform="translate(231.2 525.26) scale(0.88 1)" font-size="7.15" text-anchor="end" fill="#222222" stroke="#222222" stroke-width="0.14">20%</text>
<text transform="translate(231.2 555.96) scale(0.88 1)" font-size="7.15" text-anchor="end" fill="#222222" stroke="#222222" stroke-width="0.14">10%</text>
<text transform="translate(231.2 585.66) scale(0.88 1)" font-size="7.15" text-anchor="end" fill="#222222" stroke="#222222" stroke-width="0.14">0%</text>
<text x="276.2" y="594.28" font-size="7.5" text-anchor="middle" fill="#0c0c0c" font-weight="bold" stroke="#0c0c0c" stroke-width="0.37">DP</text>
<rect x="353" y="327.5" width="12.75" height="19" fill="#b5b5b5" stroke="#9c9c9c" stroke-width="0.5"/>
<line x1="359.38" y1="324.4" x2="359.38" y2="329.4" stroke="#383838" stroke-width="0.7"/>
<rect x="366.25" y="325.85" width="12.5" height="20.65" fill="#6b6b6b" stroke="#585858" stroke-width="0.5"/>
<line x1="372.5" y1="323.1" x2="372.5" y2="327.5" stroke="#383838" stroke-width="0.7"/>
<rect x="398.35" y="297.15" width="12.9" height="49.35" fill="#b5b5b5" stroke="#9c9c9c" stroke-width="0.5"/>
<line x1="404.8" y1="292.25" x2="404.8" y2="301.9" stroke="#383838" stroke-width="0.7"/>
<rect x="411.75" y="292.15" width="12.6" height="54.35" fill="#6b6b6b" stroke="#585858" stroke-width="0.5"/>
<line x1="418.05" y1="287.25" x2="418.05" y2="296" stroke="#383838" stroke-width="0.7"/>
<rect x="343.5" y="285.6" width="91.25" height="60.9" fill="none" stroke="#363636" stroke-width="0.95"/>
<text transform="translate(341.3 287.51) scale(0.88 1)" font-size="7" text-anchor="end" fill="#222222" stroke="#222222" stroke-width="0.14">10%</text>
<text transform="translate(341.3 318.71) scale(0.88 1)" font-size="7" text-anchor="end" fill="#222222" stroke="#222222" stroke-width="0.14">5%</text>
<text transform="translate(341.3 348.31) scale(0.88 1)" font-size="7" text-anchor="end" fill="#222222" stroke="#222222" stroke-width="0.14">0%</text>
<rect x="353" y="454.65" width="12.75" height="11.6" fill="#b5b5b5" stroke="#9c9c9c" stroke-width="0.5"/>
<line x1="359.38" y1="453.7" x2="359.38" y2="455" stroke="#383838" stroke-width="0.7"/>
<rect x="366.25" y="450.5" width="12.5" height="15.75" fill="#6b6b6b" stroke="#585858" stroke-width="0.5"/>
<line x1="372.5" y1="448.3" x2="372.5" y2="451.8" stroke="#383838" stroke-width="0.7"/>
<rect x="399" y="436.5" width="12.65" height="29.75" fill="#b5b5b5" stroke="#9c9c9c" stroke-width="0.5"/>
<line x1="405.32" y1="430.6" x2="405.32" y2="441.9" stroke="#383838" stroke-width="0.7"/>
<rect x="412.15" y="419.25" width="12.35" height="47" fill="#6b6b6b" stroke="#585858" stroke-width="0.5"/>
<line x1="418.32" y1="413.1" x2="418.32" y2="424.4" stroke="#383838" stroke-width="0.7"/>
<rect x="343.5" y="405.25" width="91.25" height="61" fill="none" stroke="#363636" stroke-width="0.95"/>
<text transform="translate(340.7 407.26) scale(0.88 1)" font-size="7" text-anchor="end" fill="#222222" stroke="#222222" stroke-width="0.14">8%</text>
<text transform="translate(340.7 438.11) scale(0.88 1)" font-size="7" text-anchor="end" fill="#222222" stroke="#222222" stroke-width="0.14">4%</text>
<text transform="translate(340.7 468.21) scale(0.88 1)" font-size="7" text-anchor="end" fill="#222222" stroke="#222222" stroke-width="0.14">0%</text>
<polygon points="373.1,437.8 373.97,439.81 376.14,440.01 374.5,441.45 374.98,443.59 373.1,442.47 371.22,443.59 371.7,441.45 370.06,440.01 372.23,439.81" fill="#0a0a0a"/>
<polygon points="418.5,405.8 419.37,407.81 421.54,408.01 419.9,409.45 420.38,411.59 418.5,410.47 416.62,411.59 417.1,409.45 415.46,408.01 417.63,407.81" fill="#0a0a0a"/>
<rect x="353" y="562.5" width="12.75" height="20.3" fill="#b5b5b5" stroke="#9c9c9c" stroke-width="0.5"/>
<line x1="359.38" y1="560" x2="359.38" y2="564.75" stroke="#383838" stroke-width="0.7"/>
<rect x="366.25" y="561.25" width="12.5" height="21.55" fill="#6b6b6b" stroke="#585858" stroke-width="0.5"/>
<line x1="372.5" y1="558.1" x2="372.5" y2="564.4" stroke="#383838" stroke-width="0.7"/>
<rect x="399" y="529.25" width="12.65" height="53.55" fill="#b5b5b5" stroke="#9c9c9c" stroke-width="0.5"/>
<line x1="405.32" y1="526.25" x2="405.32" y2="531.25" stroke="#383838" stroke-width="0.7"/>
<rect x="412.15" y="532.5" width="12.35" height="50.3" fill="#6b6b6b" stroke="#585858" stroke-width="0.5"/>
<line x1="418.32" y1="527.25" x2="418.32" y2="536.9" stroke="#383838" stroke-width="0.7"/>
<rect x="343.5" y="521.7" width="91.25" height="61.1" fill="none" stroke="#363636" stroke-width="0.95"/>
<text transform="translate(340.7 524.41) scale(0.88 1)" font-size="7" text-anchor="end" fill="#222222" stroke="#222222" stroke-width="0.14">6%</text>
<text transform="translate(340.7 555.01) scale(0.88 1)" font-size="7" text-anchor="end" fill="#222222" stroke="#222222" stroke-width="0.14">3%</text>
<text transform="translate(340.7 585.01) scale(0.88 1)" font-size="7" text-anchor="end" fill="#222222" stroke="#222222" stroke-width="0.14">0%</text>
<text x="366.6" y="591.46" font-size="7.72" text-anchor="middle" fill="#0c0c0c" font-weight="bold" stroke="#0c0c0c" stroke-width="0.38">CD4SP</text>
<text x="366.6" y="599.19" font-size="7.8" text-anchor="middle" fill="#0c0c0c" font-weight="bold" stroke="#0c0c0c" stroke-width="0.39">CD3hi</text>
<text x="413.2" y="591.46" font-size="7.72" text-anchor="middle" fill="#0c0c0c" font-weight="bold" stroke="#0c0c0c" stroke-width="0.38">CD8SP</text>
<text x="413.2" y="599.19" font-size="7.8" text-anchor="middle" fill="#0c0c0c" font-weight="bold" stroke="#0c0c0c" stroke-width="0.39">CD3hi</text>
<rect x="235" y="599.9" width="78.5" height="12" fill="#fff" stroke="#6e6e6e" stroke-width="0.9"/>
<rect x="237.8" y="603.4" width="6.8" height="6.3" fill="#b9b9b9" stroke="#888888" stroke-width="0.9"/>
<text x="248.1" y="609.05" font-size="7.4" text-anchor="start" fill="#0c0c0c" font-weight="bold" stroke="#0c0c0c" stroke-width="0.37">Diluent</text>
<rect x="282.1" y="603.1" width="6.8" height="6.6" fill="#6b6b6b" stroke="#565656" stroke-width="0.5"/>
<text x="292.5" y="608.94" font-size="7.1" text-anchor="start" fill="#0c0c0c" font-weight="bold" stroke="#0c0c0c" stroke-width="0.35">IGF-1</text>
</svg>
</body>
</html>
